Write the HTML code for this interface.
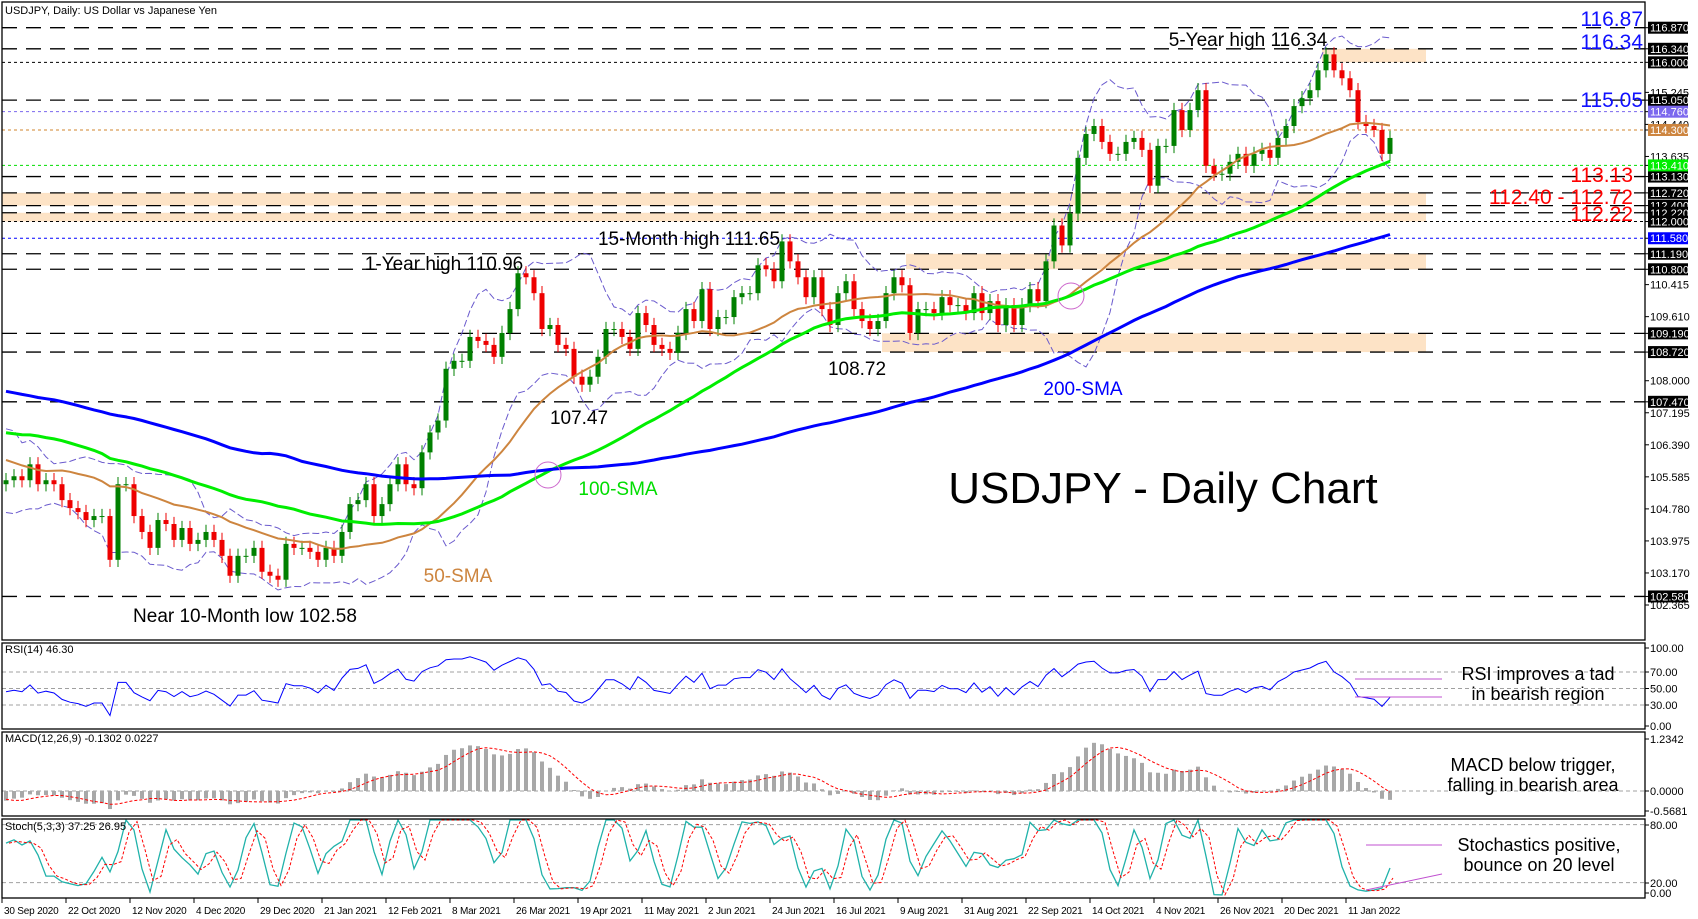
<!DOCTYPE html>
<html><head><meta charset="utf-8"><style>
html,body{margin:0;padding:0;background:#fff}
svg{display:block;font-family:"Liberation Sans",sans-serif}
</style></head><body>
<svg id="chart" width="1698" height="919" viewBox="0 0 1698 919" xmlns="http://www.w3.org/2000/svg">
<rect x="0" y="0" width="1698" height="919" fill="#fff"/>
<g id="boxes"></g>
<g id="levels"></g>
<g id="main"></g>
<g id="ind"></g>
<g id="axes"></g>
<g id="ann" font-family="Liberation Sans, sans-serif">
  <text x="5" y="14" font-size="11">USDJPY, Daily:  US Dollar vs Japanese Yen</text>
  <text x="1248" y="46" font-size="19" text-anchor="middle">5-Year high 116.34</text>
  <text x="1643" y="26" font-size="21" fill="#1010ff" text-anchor="end">116.87</text>
  <text x="1643" y="49" font-size="21" fill="#1010ff" text-anchor="end">116.34</text>
  <text x="1643" y="107" font-size="21" fill="#1010ff" text-anchor="end">115.05</text>
  <text x="1633" y="182" font-size="21" fill="#ff0000" text-anchor="end">113.13</text>
  <text x="1633" y="204" font-size="21" fill="#ff0000" text-anchor="end">112.40 - 112.72</text>
  <text x="1633" y="221" font-size="21" fill="#ff0000" text-anchor="end">112.22</text>
  <text x="689" y="245" font-size="19" text-anchor="middle">15-Month high 111.65</text>
  <text x="444" y="270" font-size="19" text-anchor="middle">1-Year high 110.96</text>
  <text x="857" y="375" font-size="19" text-anchor="middle">108.72</text>
  <text x="579" y="424" font-size="19" text-anchor="middle">107.47</text>
  <text x="1083" y="395" font-size="19" fill="#0000ff" text-anchor="middle">200-SMA</text>
  <text x="618" y="495" font-size="19" fill="#00dd00" text-anchor="middle">100-SMA</text>
  <text x="458" y="582" font-size="19" fill="#cd853f" text-anchor="middle">50-SMA</text>
  <text x="245" y="622" font-size="19" text-anchor="middle">Near 10-Month low 102.58</text>
  <text x="1163" y="503" font-size="44" text-anchor="middle">USDJPY - Daily Chart</text>
  <text x="1538" y="680" font-size="18" text-anchor="middle">RSI improves a tad</text>
  <text x="1538" y="700" font-size="18" text-anchor="middle">in bearish region</text>
  <text x="1533" y="771" font-size="18" text-anchor="middle">MACD below trigger,</text>
  <text x="1533" y="791" font-size="18" text-anchor="middle">falling in bearish area</text>
  <text x="1539" y="851" font-size="18" text-anchor="middle">Stochastics positive,</text>
  <text x="1539" y="871" font-size="18" text-anchor="middle">bounce on 20 level</text>
  <text x="5" y="653" font-size="11">RSI(14) 46.30</text>
  <text x="5" y="742" font-size="11">MACD(12,26,9) -0.1302 0.0227</text>
  <text x="5" y="830" font-size="11">Stoch(5,3,3) 37.25 26.95</text>
</g>
</svg>
<script>
const preCloses=[109.5,109.4,109.5,109.6,109.5,108.6,108.4,109.2,109.5,110.0,110.1,109.9,109.5,109.2,109.0,108.9,108.6,109.1,109.7,110.0,
109.8,109.8,109.9,110.0,109.8,110.1,111.2,111.6,110.6,108.1,
107.9,107.5,105.3,102.5,105.6,107.3,110.7,111.0,108.3,107.6,107.8,
108.5,108.9,108.5,107.9,107.6,107.6,107.8,107.4,107.6,106.9,106.9,
106.7,106.1,106.9,107.4,107.1,107.3,107.6,107.7,107.6,107.8,
108.7,109.5,107.8,107.2,107.4,106.9,107.0,106.9,107.0,107.3,107.5,
107.6,107.4,107.2,107.3,107.2,107.3,106.9,106.1,105.3,104.8,105.6,
106.0,105.6,105.9,106.9,106.7,105.4,105.8,106.0,106.6,105.4,
106.2,106.3,106.0,105.2,104.9,105.3];
const closes=[105.5,105.6,105.5,105.9,105.4,105.5,105.4,105.0,104.8,104.7,104.5,104.6,
104.6,103.5,105.4,105.4,104.6,104.2,103.8,104.5,104.4,104.0,104.3,103.9,104.0,104.2,104.0,103.6,103.1,103.6,103.6,103.8,103.2,103.1,103.0,103.9,
103.8,103.8,103.7,103.5,103.8,103.6,104.2,104.9,105.0,105.4,104.6,104.9,105.4,105.9,105.4,105.3,106.2,106.7,107.0,108.3,
108.5,108.5,109.1,109.0,108.9,108.6,109.2,109.8,110.7,110.6,110.2,109.3,109.4,108.9,108.8,108.1,107.9,108.1,108.6,109.3,
109.3,109.1,108.8,109.7,109.4,108.9,108.8,108.7,109.2,109.8,109.5,110.3,109.3,109.6,109.6,110.1,110.2,110.2,110.9,110.8,
110.5,111.5,111.0,110.6,110.1,110.6,109.8,109.4,110.2,110.5,109.8,109.5,109.3,109.5,110.2,110.6,110.4,109.2,109.8,109.8,
109.7,110.1,109.9,109.9,109.7,110.2,109.7,110.0,109.4,109.9,109.4,109.9,110.3,110.0,111.0,111.9,111.4,112.2,113.6,114.2,
114.4,114.0,113.7,113.7,114.0,114.1,113.8,112.9,113.9,113.9,114.8,114.3,114.8,115.3,113.4,113.2,
113.2,113.5,113.7,113.4,113.7,113.8,113.6,114.1,114.4,114.9,115.1,115.3,115.8,116.2,115.8,115.6,115.3,114.5,114.4,114.3,113.7,114.1];
const dateLabels=["30 Sep 2020","22 Oct 2020","12 Nov 2020","4 Dec 2020","29 Dec 2020","21 Jan 2021","12 Feb 2021","8 Mar 2021","26 Mar 2021","19 Apr 2021","11 May 2021","2 Jun 2021","24 Jun 2021","16 Jul 2021","9 Aug 2021","31 Aug 2021","22 Sep 2021","14 Oct 2021","4 Nov 2021","26 Nov 2021","20 Dec 2021","11 Jan 2022"];
const priceTicks=[115.245,114.440,113.635,110.415,109.610,108.000,107.195,106.390,105.585,104.780,103.975,103.170,102.365];
const boxedLevels=[116.870,116.340,116.000,115.050,113.130,112.720,112.400,112.220,112.000,111.190,110.800,109.190,108.720,107.470,102.580];
const longDashLevels=[116.87,116.34,115.05,113.13,112.72,112.40,112.22,111.19,110.80,109.19,108.72,107.47,102.58];
const shortDashLevels=[116.00,112.00];
const zoneLows=[116.00,112.40,112.00,110.80,108.72];
const zoneHighs=[116.34,112.72,112.22,111.19,109.19];
const zoneStartIdx=[165,0,0,113,110];

const NS="http://www.w3.org/2000/svg";
function mk(parent,tag,attrs){const e=document.createElementNS(NS,tag);for(const k in attrs)e.setAttribute(k,attrs[k]);parent.appendChild(e);return e;}
const yP=p=>27.7+(116.87-p)*39.8;
const xJ=j=>6+8*j;
const yRSI=v=>729.75-0.825*v;
const yMACD=v=>791-42.5*v;
const yST=v=>Math.max(820,Math.min(897,902-0.967*v));
const L=1645;
const all=preCloses.concat(closes), off=preCloses.length;

const gb=document.getElementById('boxes');
for(let i=0;i<zoneLows.length;i++){
  const x0=(i==0||i>2)?xJ(zoneStartIdx[i])-4:2;
  const r=mk(gb,'rect',{x:x0,y:yP(zoneHighs[i]),width:1426-x0,height:yP(zoneLows[i])-yP(zoneHighs[i]),fill:'#fde3c6'});
  
  
}
const gl=document.getElementById('levels');
longDashLevels.forEach(p=>{const l=mk(gl,'line',{x1:2,x2:L,y1:yP(p),y2:yP(p),stroke:'#000','stroke-width':1.3,'stroke-dasharray':'15,9'});
  
  });
shortDashLevels.forEach(p=>{const l=mk(gl,'line',{x1:2,x2:L,y1:yP(p),y2:yP(p),stroke:'#000','stroke-width':1,'stroke-dasharray':'3,3'});
  
  });
[[114.76,'#7b68ee'],[114.30,'#d2842c'],[113.41,'#00dd00'],[111.58,'#0000ff']].forEach(a=>{const l=mk(gl,'line',{x1:2,x2:L,y1:yP(a[0]),y2:yP(a[0]),stroke:a[1],'stroke-width':1,'stroke-dasharray':'3,3'});
  
  });

const gm=document.getElementById('main');
function sma(n,i){let s=0;for(let k=0;k<n;k++)s+=all[i-k];return s/n;}
function path(pts){return pts.map((q,i)=>(i?'L':'M')+q[0].toFixed(1)+','+q[1].toFixed(1)).join('');}
const up=[],dn=[];
for(let j=0;j<closes.length;j++){const i=off+j;const m=sma(10,i);let v=0;for(let k=0;k<10;k++)v+=(all[i-k]-m)**2;const sd=Math.sqrt(v/10);up.push([xJ(j),yP(m+2*sd)]);dn.push([xJ(j),yP(m-2*sd)]);}
[up,dn].forEach(a=>{const e=mk(gm,'path',{d:path(a),fill:'none',stroke:'#6a5acd','stroke-width':1,'stroke-dasharray':'7,3'});
  
  });
const highs=[],lows=[];
for(let j=0;j<closes.length;j++){
  const o=j?closes[j-1]:105.4, c=closes[j];
  const h=Math.max(o,c)+0.18, lo=Math.min(o,c)-0.18; highs.push(h);lows.push(lo);
  const col=c>=o?'#008000':'#ee0000';
  const w=mk(gm,'line',{x1:xJ(j),x2:xJ(j),y1:yP(h),y2:yP(lo),stroke:col,'stroke-width':1});
  
  
  const b=mk(gm,'rect',{x:xJ(j)-2.5,y:yP(Math.max(o,c)),width:5,height:Math.max(1,Math.abs(yP(o)-yP(c))),fill:col});
  
  
}
[[25,'#cd853f',2,'sma50-line'],[50,'#00ee00',3,'sma100-line'],[100,'#0000ff',3,'sma200-line']].forEach(s=>{
  const pts=closes.map((c,j)=>[xJ(j),yP(sma(s[0],off+j))]);
  const e=mk(gm,'path',{d:path(pts),fill:'none',stroke:s[1],'stroke-width':s[2]});
  
  
});
[[1071,296],[548,475]].forEach(c=>{const e=mk(gm,'circle',{cx:c[0],cy:c[1],r:13,fill:'none',stroke:'#cc66cc','stroke-width':1});
  
  });

const gi=document.getElementById('ind');
[70,50,30].forEach(v=>{const l=mk(gi,'line',{x1:2,x2:L,y1:yRSI(v),y2:yRSI(v),stroke:'#a0a0a0','stroke-dasharray':'4,3'});
  
  });
[80,20].forEach(v=>{const l=mk(gi,'line',{x1:2,x2:L,y1:yST(v),y2:yST(v),stroke:'#a0a0a0','stroke-dasharray':'4,3'});
  
  });
const rsi=[];let ag=0,al=0;const N=7;
for(let i=1;i<all.length;i++){const d=all[i]-all[i-1];const g=Math.max(d,0),ls=Math.max(-d,0);ag=(ag*(N-1)+g)/N;al=(al*(N-1)+ls)/N;if(i>=off)rsi.push(al===0?100:100-100/(1+ag/al));}
let pe=mk(gi,'path',{d:path(rsi.map((v,j)=>[xJ(j),yRSI(v)])),fill:'none',stroke:'#0000ff','stroke-width':1});


let e1=all[0],e2=all[0];const macd=[];
for(let i=0;i<all.length;i++){e1+=(all[i]-e1)*2/7;e2+=(all[i]-e2)*2/14;if(i>=off-5)macd.push(e1-e2);}
const sig=[];for(let j=5;j<macd.length;j++){let s=0;for(let k=0;k<5;k++)s+=macd[j-k];sig.push(s/5);}
const mm=macd.slice(5);
mk(gi,'line',{x1:2,x2:L,y1:yMACD(0),y2:yMACD(0),stroke:'#a0a0a0','stroke-dasharray':'4,3'});
mm.forEach((v,j)=>{const b=mk(gi,'rect',{x:xJ(j)-2,y:Math.min(yMACD(0),yMACD(v)),width:4,height:Math.abs(yMACD(v)-yMACD(0)),fill:'#a8a8a8'});
  
  });
pe=mk(gi,'path',{d:path(sig.map((v,j)=>[xJ(j),yMACD(v)])),fill:'none',stroke:'#ff0000','stroke-width':1,'stroke-dasharray':'3,2'});


const kRaw=[];for(let j=0;j<closes.length;j++){const a=Math.max(0,j-2);let hh=-1e9,ll=1e9;for(let k=a;k<=j;k++){hh=Math.max(hh,highs[k]);ll=Math.min(ll,lows[k]);}kRaw.push(100*(closes[j]-ll)/(hh-ll));}
const kS=kRaw.map((v,j)=>j?(v+kRaw[j-1])/2:v);
const dS=kS.map((v,j)=>j?(v+kS[j-1])/2:v);
pe=mk(gi,'path',{d:path(kS.map((v,j)=>[xJ(j),yST(v)])),fill:'none',stroke:'#20b2aa','stroke-width':1.3});


pe=mk(gi,'path',{d:path(dS.map((v,j)=>[xJ(j)+3,yST(v)])),fill:'none',stroke:'#ff0000','stroke-width':1,'stroke-dasharray':'3,2'});


[[1355,679,1442,679],[1355,697,1442,697],[1366,845,1442,845],[1366,890,1442,874]].forEach(a=>{const l=mk(gi,'line',{x1:a[0],y1:a[1],x2:a[2],y2:a[3],stroke:'#c050d0','stroke-width':1});
  
  });

const ga=document.getElementById('axes');
[[2,2,640],[2,643,729],[2,732,816],[2,819,898]].forEach(r=>{const f=mk(ga,'rect',{x:r[0],y:r[1],width:L-r[0],height:r[2]-r[1],fill:'none',stroke:'#000','stroke-width':1.3});
  
  });
function axLabel(y,t,bg){mk(ga,'line',{x1:L,x2:L+4,y1:y,y2:y,stroke:'#000'});
  if(bg){const r=mk(ga,'rect',{x:L+3,y:y-6,width:40,height:12,fill:bg});
    
    }
  const tx=mk(ga,'text',{x:L+5,y:y+4,'font-size':11,fill:bg?'#fff':'#000'});tx.textContent=t;
  
  }
priceTicks.forEach(p=>axLabel(yP(p),p.toFixed(3)));
boxedLevels.forEach(p=>axLabel(yP(p),p.toFixed(3),'#000'));
axLabel(yP(114.76),'114.760','#7b68ee');axLabel(yP(114.30),'114.300','#cd853f');axLabel(yP(113.41),'113.410','#00ee00');axLabel(yP(111.58),'111.580','#0000ff');
[[100,'100.00'],[70,'70.00'],[50,'50.00'],[30,'30.00'],[0,'0.00']].forEach(a=>axLabel(Math.max(648,Math.min(726,yRSI(a[0]))),a[1]));
axLabel(739,'1.2342');axLabel(791,'0.0000');axLabel(811,'-0.5681');
axLabel(825,'80.00');axLabel(883,'20.00');axLabel(893,'0.00');
dateLabels.forEach((t,k)=>{const x=2+64*k;mk(ga,'line',{x1:x,x2:x,y1:898,y2:903,stroke:'#000'});
  const tx=mk(ga,'text',{x:x+2,y:914,'font-size':10,'letter-spacing':'-0.2'});tx.textContent=t;
  
  });
</script>
</body></html>
